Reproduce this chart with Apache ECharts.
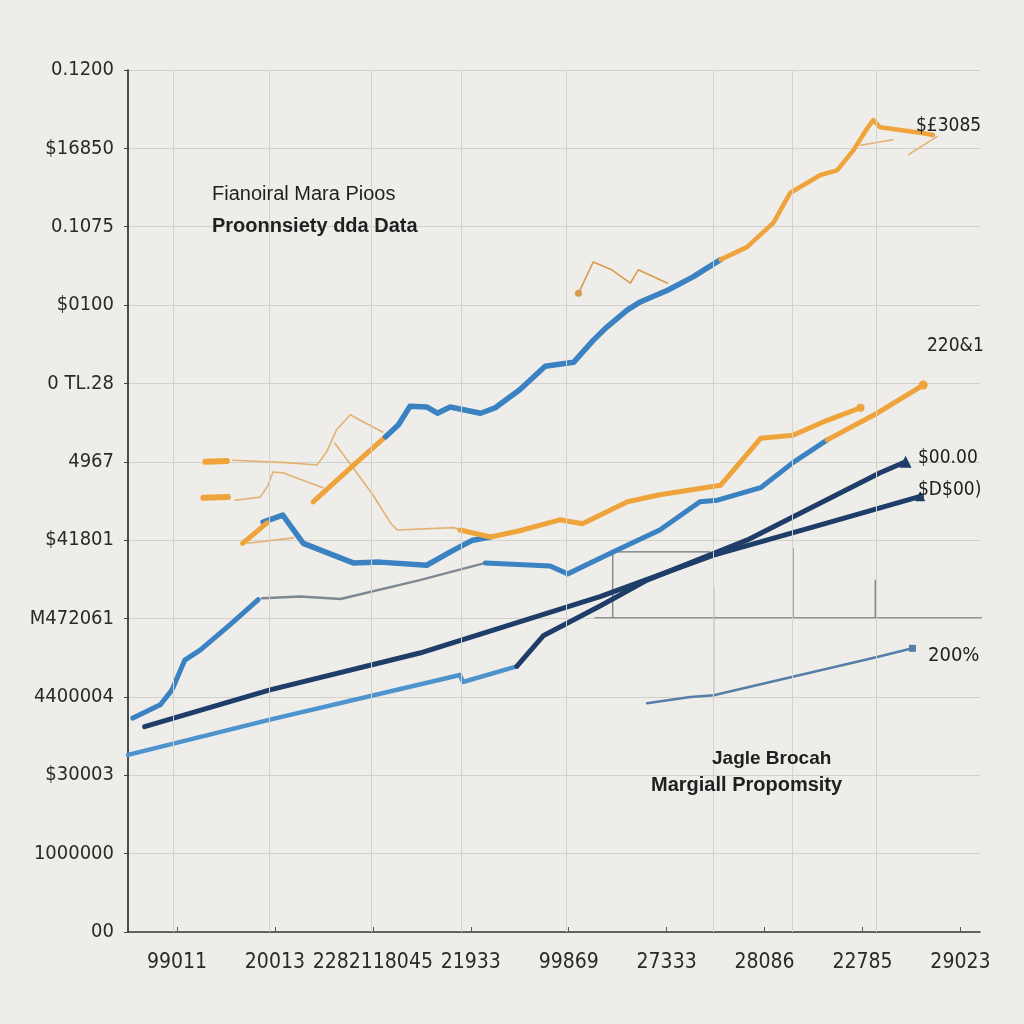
<!DOCTYPE html>
<html><head><meta charset="utf-8">
<script src="https://cdn.jsdelivr.net/npm/echarts@6/dist/echarts.min.js"></script>
<style>html,body{margin:0;padding:0;background:#efede9}#c{width:1024px;height:1024px}</style>
</head><body><div id="c"></div>
<script>
// ---- tick labels ----
const xLabels = ["99011","20013","2282118045","21933","99869","27333","28086","22785","29023"];
const xLabelPos = [5,15,25,35,45,55,65,75,85];
const yLabels = ["00","1000000","$30003","4400004","M472061","$41801","4967","0 TL.28","$0100","0.1075","$16850","0.1200"];
const vGrid = [4.6,14.4,24.8,34.0,44.7,59.8,67.8,76.4];

// ---- series values ----
const blueRiseX = [0.5,3.3,4.5,5.8,7.4,10.4,13.3];
const blueRiseY = [27.3,29.0,30.9,34.7,36.0,39.2,42.4];
const grayFlatX = [13.7,17.6,21.7,29.8,36.5];
const grayFlatY = [42.6,42.8,42.5,44.9,47.1];
const blueMidX = [36.5,43.1,44.9,49.9,54.3,58.4,60.2,64.6,67.9,71.4];
const blueMidY = [47.1,46.7,45.7,48.7,51.3,54.9,55.1,56.7,59.9,62.8];
const orangeTipX = [71.4,76.5,81.2];
const orangeTipY = [62.8,66.2,69.8];
const blueDipX = [13.8,15.8,17.9,23.0,25.7,30.5,33.2,35.2,37.0];
const blueDipY = [52.3,53.2,49.6,47.1,47.2,46.8,48.7,50.0,50.4];
const orangeStubX = [11.7,14.2];
const orangeStubY = [49.6,52.2];
const orangeLowX = [33.9,37.0,40.0,44.1,46.4,51.0,54.3,60.5,64.6,67.9,71.4,74.8];
const orangeLowY = [51.3,50.4,51.2,52.6,52.1,54.9,55.8,57.0,63.0,63.4,65.3,66.9];
const orangeClimbX = [18.9,22.7,26.3];
const orangeClimbY = [54.9,59.2,63.2];
const blueUpX = [26.3,27.6,28.8,30.5,31.6,32.9,36.0,37.5,40.0,42.6,45.5,47.5,48.9,51.0,52.3,55.1,57.7,60.5];
const blueUpY = [63.2,64.7,67.1,67.0,66.2,67.0,66.2,66.9,69.2,72.2,72.7,75.5,77.2,79.4,80.4,81.9,83.6,85.8];
const orangeUpX = [60.5,63.2,65.9,67.6,70.7,72.4,74.1,75.5,76.1,76.8,80.9,82.2];
const orangeUpY = [85.8,87.4,90.5,94.3,96.6,97.2,99.8,102.6,103.6,102.7,102.0,101.7];
const thinTopX = [74.8,78.1,null,79.7,82.6];
const thinTopY = [100.4,101.1,null,99.2,101.5];
const thinMidX = [46.0,47.5,49.4,51.3,52.1,55.1];
const thinMidY = [81.5,85.5,84.5,82.8,84.5,82.8];
const stubAX = [7.9,10.1];
const stubAY = [60.0,60.1];
const stubBX = [7.7,10.2];
const stubBY = [55.4,55.5];
const thinAX = [10.7,16.2,19.3,20.3,21.3,22.7,23.7,26.0];
const thinAY = [60.2,59.9,59.6,61.3,64.1,66.0,65.3,63.8];
const thinBX = [10.9,13.5,14.3,14.8,15.8,19.9];
const thinBY = [55.1,55.5,57.0,58.7,58.6,56.7];
const thinCX = [21.1,23.0,25.0,26.8,27.5,33.2,36.0];
const thinCY = [62.4,59.2,55.8,52.2,51.3,51.6,50.7];
const thinDX = [12.2,16.9];
const thinDY = [49.6,50.3];
const navyAX = [1.7,14.5,29.8,48.2,59.8,70.0,80.9];
const navyAY = [26.2,30.9,35.6,42.8,48.1,51.7,55.6];
const lightBX = [0,14.5,33.9,34.2,39.7];
const lightBY = [22.6,27.1,32.8,31.9,33.9];
const navyBX = [39.7,42.4,48.2,53.0,63.2,76.8,79.4];
const navyBY = [33.9,37.8,41.6,44.9,50.0,58.6,60.0];
const lowBlueX = [53.0,57.4,59.8,76.5,80.1];
const lowBlueY = [29.2,30.0,30.2,35.1,36.2];
const decoX = [47.7,87.5,null,59.8,59.8,null,67.9,67.9,null,76.3,76.3,null,49.5,59.4,null,49.5,49.5];
const decoY = [40.1,40.1,null,43.9,30.5,null,49.0,40.1,null,44.9,40.1,null,48.5,48.5,null,48.5,40.1];

function pts(xs, ys, endSym, endSize, endColor){
  return xs.map((x,i)=>{
    if(x===null) return [null,null];
    const v=[x,ys[i]];
    if(endSym && i===xs.length-1) return {value:v, symbol:endSym, symbolSize:endSize, itemStyle:{color:endColor}};
    return v;
  });
}
function line(name, xs, ys, color, width, z, endSym, endSize){
  return {name, type:'line', data:pts(xs,ys,endSym,endSize,color), showSymbol:true, symbol:'none',
    connectNulls:false, lineStyle:{color, width, cap:'round', join:'round'}, itemStyle:{color}, z:z||2, silent:true, animation:false};
}
const ORANGE='#eea43a', BLUE='#3b82c2', NAVY='#1e3d68', LIGHT='#4d94cf', GRAY='#7d8893', TAN='#e2b173';

const series = [
  {type:'line', data:[], z:0, markLine:{symbol:'none', silent:true, label:{show:false},
    lineStyle:{color:'#d4d2cd', width:1, type:'solid'}, data:vGrid.map(v=>({xAxis:v}))}, animation:false},
  line('deco', decoX, decoY, '#6f7478', 1.2, 1),
  line('thinA', thinAX, thinAY, TAN, 1.6, 2),
  line('thinB', thinBX, thinBY, TAN, 1.6, 2),
  line('thinC', thinCX, thinCY, TAN, 1.6, 2),
  line('thinD', thinDX, thinDY, TAN, 1.6, 2),
  line('thinTop', thinTopX, thinTopY, TAN, 1.6, 2),
  line('thinMid', [...thinMidX].reverse(), [...thinMidY].reverse(), '#d99a4e', 1.6, 2, 'circle', 7),
  line('stubA', stubAX, stubAY, ORANGE, 6, 3),
  line('stubB', stubBX, stubBY, ORANGE, 6, 3),
  line('blueRise', blueRiseX, blueRiseY, BLUE, 5, 3),
  line('grayFlat', grayFlatX, grayFlatY, GRAY, 2.5, 3),
  line('blueMid', blueMidX, blueMidY, BLUE, 5, 3),
  line('orangeTip', orangeTipX, orangeTipY, ORANGE, 5, 3, 'circle', 9),
  line('blueDip', blueDipX, blueDipY, BLUE, 5.5, 3),
  line('orangeStub', orangeStubX, orangeStubY, ORANGE, 5, 3),
  line('orangeLow', orangeLowX, orangeLowY, ORANGE, 5, 4, 'circle', 8),
  line('orangeClimb', orangeClimbX, orangeClimbY, ORANGE, 5, 3),
  line('blueUp', blueUpX, blueUpY, BLUE, 5.5, 3),
  line('orangeUp', orangeUpX, orangeUpY, ORANGE, 4.5, 3),
  line('lightB', lightBX, lightBY, LIGHT, 4.5, 3),
  line('navyB', navyBX, navyBY, NAVY, 5, 4, 'triangle', 12),
  line('navyA', navyAX, navyAY, NAVY, 5, 4, 'triangle', 10),
  line('lowBlue', lowBlueX, lowBlueY, '#557ea8', 2.5, 3, 'rect', 7)
];

const FONT = "'Liberation Sans Narrow','DejaVu Sans Condensed','Liberation Sans',sans-serif";
function txt(x,y,text,opts){
  return {type:'text', left:x, top:y, silent:true, z:100, style:Object.assign({text, fill:'#1f1f1f', font:"20px 'Liberation Sans',sans-serif"}, opts||{})};
}

const chart = echarts.init(document.getElementById('c'), null, {renderer:'canvas'});
chart.setOption({
  backgroundColor:'#efede9',
  animation:false,
  grid:{left:128, right:44, top:70, bottom:92, containLabel:false},
  xAxis:{type:'value', min:0, max:87,
    axisLine:{show:true, onZero:false, lineStyle:{color:'#3a3a3a', width:1.5}},
    axisTick:{show:true, customValues:xLabelPos, inside:true, length:5, lineStyle:{color:'#555'}},
    splitLine:{show:false},
    axisLabel:{customValues:xLabelPos, margin:20, color:'#2a2a2a', fontSize:21, fontFamily:FONT,
      formatter:(v)=>xLabels[Math.round((v-5)/10)]||''}},
  yAxis:{type:'value', min:0, max:110, interval:10,
    axisLine:{show:true, lineStyle:{color:'#222', width:1.6}},
    axisTick:{show:true, length:4, lineStyle:{color:'#444'}},
    splitLine:{show:true, lineStyle:{color:'#d2d0cb', width:1}},
    axisLabel:{margin:14, color:'#2a2a2a', fontSize:20, fontFamily:FONT,
      formatter:(v)=>yLabels[Math.round(v/10)]||''}},
  series,
  graphic:[
    txt(212,184,'Fianoiral Mara Pioos',{font:"20px 'Liberation Sans',sans-serif"}),
    txt(212,216,'Proonnsiety dda Data',{font:"bold 20px 'Liberation Sans',sans-serif"}),
    txt(712,749,'Jagle Brocah',{font:"bold 19px 'Liberation Sans',sans-serif"}),
    txt(651,775,'Margiall Propomsity',{font:"bold 20px 'Liberation Sans',sans-serif"}),
    txt(916,117,'$£3085',{font:"19px "+FONT}),
    txt(927,337,'220&1',{font:"19px "+FONT}),
    txt(918,449,'$00.00',{font:"19px "+FONT}),
    txt(918,481,'$D$00)',{font:"19px "+FONT}),
    txt(928,646,'200%',{font:"20px "+FONT})
  ]
});
</script></body></html>
